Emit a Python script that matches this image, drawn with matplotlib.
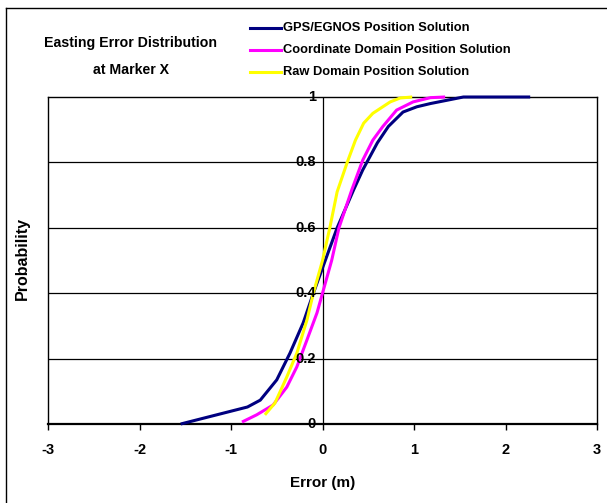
import matplotlib
matplotlib.use("Agg")
import matplotlib.pyplot as plt
from matplotlib.lines import Line2D

plt.rcParams['font.family'] = ['Liberation Sans', 'DejaVu Sans']

# Cumulative distributions of easting error (m) vs probability
gps_err = [-1.55, -0.82, -0.68, -0.5, -0.355, -0.21, -0.10, 0.03, 0.16, 0.34,
           0.44, 0.60, 0.72, 0.88, 1.03, 1.18, 1.36, 1.54, 2.27]
gps_prob = [0.0, 0.052, 0.073, 0.135, 0.217, 0.31, 0.40, 0.50, 0.60, 0.716,
            0.777, 0.86, 0.91, 0.954, 0.97, 0.98, 0.99, 1.0, 1.0]

coord_err = [-0.88, -0.72, -0.54, -0.39, -0.28, -0.17, -0.06, 0.0, 0.10, 0.18,
             0.32, 0.44, 0.55, 0.66, 0.81, 0.99, 1.18, 1.34]
coord_prob = [0.006, 0.028, 0.058, 0.113, 0.175, 0.257, 0.34, 0.40, 0.50, 0.60,
              0.716, 0.807, 0.868, 0.91, 0.96, 0.985, 0.998, 1.0]

raw_err = [-0.63, -0.52, -0.39, -0.28, -0.17, -0.10, -0.06, 0.0, 0.08, 0.16,
           0.27, 0.36, 0.45, 0.55, 0.74, 0.85, 0.98]
raw_prob = [0.028, 0.064, 0.144, 0.217, 0.318, 0.40, 0.44, 0.50, 0.60, 0.71,
            0.80, 0.868, 0.92, 0.95, 0.985, 0.997, 1.0]

series_names = ["GPS/EGNOS Position Solution",
                "Coordinate Domain Position Solution",
                "Raw Domain Position Solution"]
series_colors = ["#000080", "#FF00FF", "#FFFF00"]

x_ticks = [-3, -2, -1, 0, 1, 2, 3]
y_ticks = [0, 0.2, 0.4, 0.6, 0.8, 1]
y_tick_labels = ["0", "0.2", "0.4", "0.6", "0.8", "1"]

title_lines = ["Easting Error Distribution", "at Marker X"]

fig = plt.figure(figsize=(6.07, 5.03), dpi=100)
ax = fig.add_axes([48 / 607, 1 - 424 / 503, 549 / 607, 327 / 503])

ax.set_xlim(-3, 3)
ax.set_ylim(0, 1)

# horizontal gridlines
for yv in y_ticks[1:-1]:
    ax.axhline(yv, color="black", lw=0.9, zorder=1)

# vertical axis line at zero error
ax.axvline(0, color="black", lw=0.9, zorder=1)

series = [(gps_err, gps_prob), (coord_err, coord_prob), (raw_err, raw_prob)]
for (xs, ys), c in zip(series, series_colors):
    ax.plot(xs, ys, color=c, lw=2.2, solid_capstyle="butt",
            solid_joinstyle="round", zorder=3, clip_on=False)

for side in ["top", "right", "left"]:
    ax.spines[side].set_linewidth(1.0)
ax.spines["bottom"].set_linewidth(1.6)

ax.set_xticks(x_ticks)
ax.set_xticklabels([str(v) for v in x_ticks], fontsize=10.5, fontweight="bold")
ax.tick_params(axis="x", direction="out", length=4, width=1, pad=10)
ax.set_yticks([])

# y tick labels placed along the zero-error axis
for yv, lab in zip(y_ticks, y_tick_labels):
    ax.text(-0.07, yv, lab, ha="right", va="center", fontsize=10.5,
            fontweight="bold", zorder=4)

ax.set_xlabel("Error (m)", fontsize=11, fontweight="bold", labelpad=13)
fig.text(22 / 607, 1 - 258 / 503, "Probability", rotation=90, ha="center",
         va="center", fontsize=11.5, fontweight="bold")

# title block
for i, line in enumerate(title_lines):
    fig.text(131 / 607, 1 - (43 + 27 * i) / 503, line, ha="center",
             va="center", fontsize=10.2, fontweight="bold")

# legend drawn as line samples with labels
for i, (name, c) in enumerate(zip(series_names, series_colors)):
    yy = 1 - (28 + 22 * i) / 503
    fig.add_artist(Line2D([250 / 607, 281 / 607], [yy, yy], color=c, lw=2.2,
                          transform=fig.transFigure))
    fig.text(283 / 607, yy, name, ha="left", va="center", fontsize=9.3,
             fontweight="bold")

# partial outer frame
fig.add_artist(Line2D([6 / 607, 6 / 607], [0, 1 - 8 / 503], color="black",
                      lw=1.0, transform=fig.transFigure))
fig.add_artist(Line2D([6 / 607, 1], [1 - 8 / 503, 1 - 8 / 503], color="black",
                      lw=1.0, transform=fig.transFigure))

fig.savefig("out.png", dpi=100)
